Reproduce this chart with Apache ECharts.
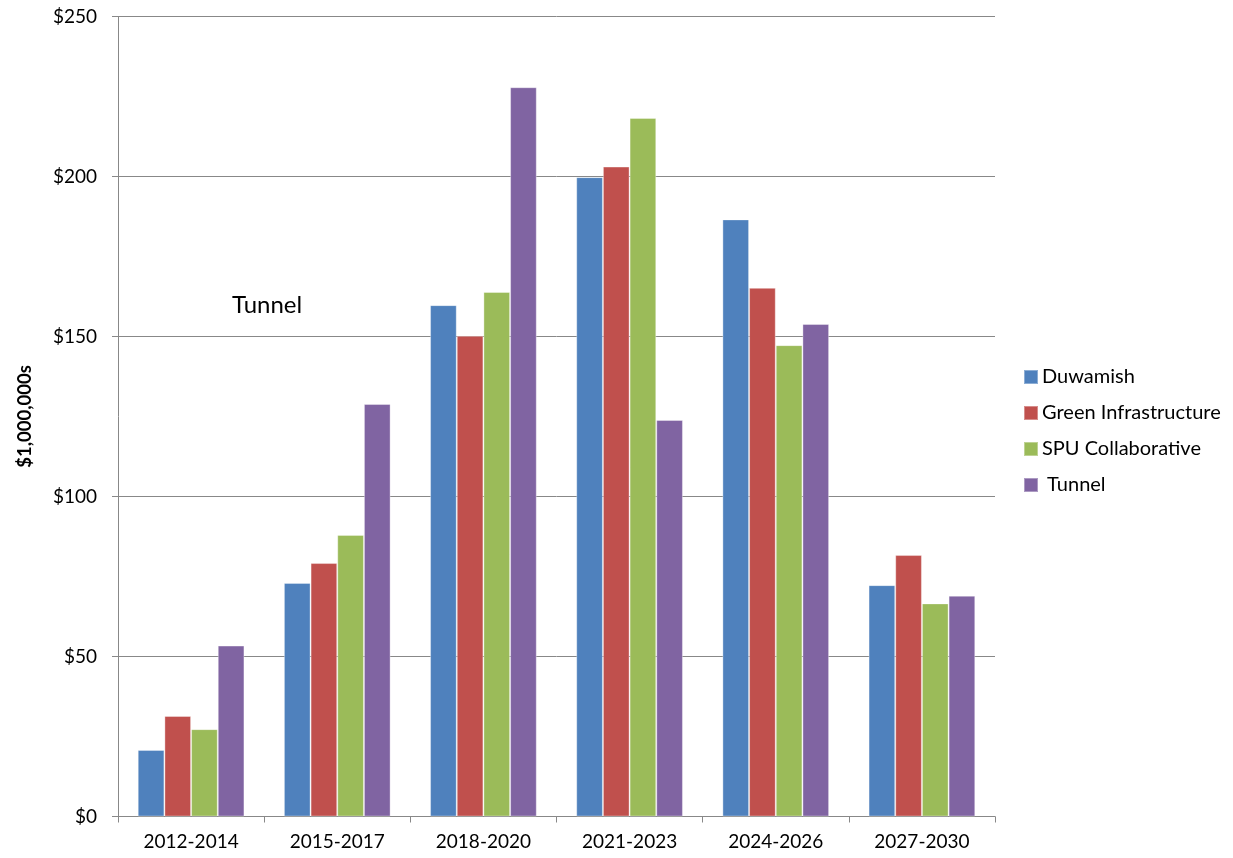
<!DOCTYPE html>
<html>
<head>
<meta charset="utf-8">
<script src="https://cdn.jsdelivr.net/npm/echarts@6/dist/echarts.min.js"></script>
<style>
  html, body { margin: 0; padding: 0; background: #fff; }
  #chart { width: 1233px; height: 858px; }
</style>
</head>
<body>
<div id="chart"></div>
<script>
// Capital spending by period, in millions of dollars
const periods = ['2012-2014', '2015-2017', '2018-2020', '2021-2023', '2024-2026', '2027-2030'];
const duwamish = [20.8, 73.0, 159.8, 199.8, 186.6, 72.3];
const greenInfrastructure = [31.4, 79.2, 150.2, 203.1, 165.2, 81.7];
const spuCollaborative = [27.3, 88.0, 163.9, 218.3, 147.3, 66.6];
const tunnel = [53.4, 128.9, 227.9, 123.9, 153.9, 69.0];

const seriesNames = ['Duwamish', 'Green Infrastructure', 'SPU Collaborative', 'Tunnel'];
const seriesColors = ['#4F81BD', '#C0504D', '#9BBB59', '#8064A2'];
const seriesValues = [duwamish, greenInfrastructure, spuCollaborative, tunnel];

const font = 'Lato, "Open Sans", sans-serif';
const chart = echarts.init(document.getElementById('chart'));

chart.setOption({
  animation: false,
  textStyle: { fontFamily: font },
  grid: { left: 118, right: 238, top: 16.5, bottom: 41.5 },
  legend: {
    orient: 'vertical',
    left: 1018,
    top: 362,
    padding: 5,
    itemWidth: 14,
    itemHeight: 14,
    itemGap: 16,
    icon: 'rect',
    formatter: n => n === 'Tunnel' ? ' ' + n : n,
    textStyle: { fontFamily: font, fontSize: 20, color: '#000', lineHeight: 20, padding: [0, 0, 0, -1] },
    data: seriesNames
  },
  xAxis: {
    type: 'category',
    data: periods,
    axisLine: { lineStyle: { color: '#888', width: 1 } },
    axisTick: { show: true, length: 6, lineStyle: { color: '#888' } },
    axisLabel: { color: '#000', fontSize: 19, margin: 16, fontFamily: font }
  },
  yAxis: {
    type: 'value',
    min: 0,
    max: 250,
    interval: 50,
    name: '$1,000,000s',
    nameLocation: 'middle',
    nameGap: 83,
    nameTextStyle: { fontSize: 18.5, fontWeight: 'bold', color: '#000', fontFamily: font },
    axisLine: { show: true, lineStyle: { color: '#888', width: 1 } },
    axisTick: { show: true, length: 6, lineStyle: { color: '#888' } },
    axisLabel: { color: '#000', fontSize: 19, margin: 21, formatter: v => '$' + v, fontFamily: font },
    splitLine: { lineStyle: { color: '#888', width: 1 } }
  },
  graphic: [{
    type: 'text',
    left: 232,
    top: 293,
    style: { text: 'Tunnel', fontSize: 24, fill: '#000', fontFamily: font }
  }],
  series: seriesNames.map((name, i) => ({
    name,
    type: 'bar',
    data: seriesValues[i],
    barGap: '0%',
    barCategoryGap: '27%',
    itemStyle: {
      color: seriesColors[i],
      borderColor: 'rgba(255,255,255,0.35)',
      borderWidth: 1
    }
  }))
});
</script>
</body>
</html>
